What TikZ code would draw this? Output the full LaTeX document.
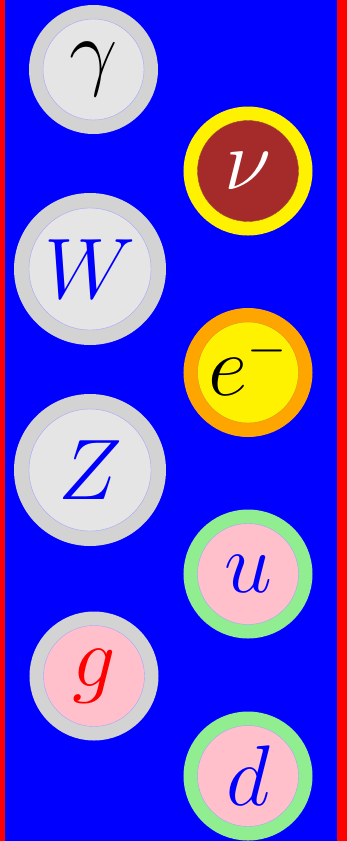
\documentclass[tikz,border=0pt]{standalone}
\usepackage{graphicx}
\definecolor{ringgray}{RGB}{211,211,211}
\definecolor{fillgray}{RGB}{229,229,229}
\definecolor{nubrown}{RGB}{165,42,42}
\definecolor{pinkfill}{RGB}{255,192,203}
\definecolor{ltgreen}{RGB}{144,238,144}
\definecolor{orangering}{RGB}{255,165,0}
\newcommand{\bigsym}[1]{\makebox[0pt][c]{\scalebox{3.456}{\Huge$#1$}}}
\newcommand{\smallminus}{\scalebox{0.7}{$\scriptstyle -$}}
\tikzset{
  particle/.style n args={3}{circle, inner sep=0pt, minimum size=115pt,
    fill=#1, draw=#2, line width=14pt, text=#3},
  bigparticle/.style n args={3}{particle={#1}{#2}{#3}, minimum size=137pt, line width=15pt},
  seam/.style={draw=#1, line width=0.4pt},
  symlabel/.style={inner sep=0pt, anchor=base, text=#1}
}
\begin{document}
\begin{tikzpicture}[x=1pt,y=-1pt]
  \fill[red] (0,0) rectangle (347,841);
  \fill[blue] (5,0) rectangle (337,841);
  \useasboundingbox (0,0) rectangle (347,841);

  \node[particle={fillgray}{ringgray}{black}] (gamma) at (93.5,69.5) {\bigsym{\gamma}};
  \node[bigparticle={fillgray}{ringgray}{blue}] (W) at (90,269) {\bigsym{W}};
  \node[bigparticle={fillgray}{ringgray}{blue}] (Z) at (90,470) {\bigsym{Z}};
  \node[particle={pinkfill}{ringgray}{red}] (g) at (94,676) {\bigsym{g}};

  \node[particle={nubrown}{yellow}{white}] (nu) at (248,171) {\bigsym{\nu}};
  \node[particle={yellow}{orangering}{black}] (e) at (248,372.5) {};
  \node[particle={pinkfill}{ltgreen}{blue}] (u) at (248,574) {\bigsym{u}};
  \node[particle={pinkfill}{ltgreen}{blue}] (d) at (248,776) {\bigsym{d}};

  \draw[seam=blue!35] (gamma.center) circle (50.5);
  \draw[seam=blue!35] (W.center) circle (61);
  \draw[seam=blue!35] (Z.center) circle (61);
  \draw[seam=blue!35] (g.center) circle (50.5);
  \draw[seam=nubrown!70!gray] (nu.center) circle (50.5);
  \draw[seam=orangering!70!gray] (e.center) circle (50.5);
  \draw[seam=blue!35] (u.center) circle (50.5);
  \draw[seam=blue!35] (d.center) circle (50.5);

  \node[symlabel=black] (elabel) at ([yshift=-22.5pt]e.center) {\bigsym{e^{\smallminus}}};
\end{tikzpicture}
\end{document}
